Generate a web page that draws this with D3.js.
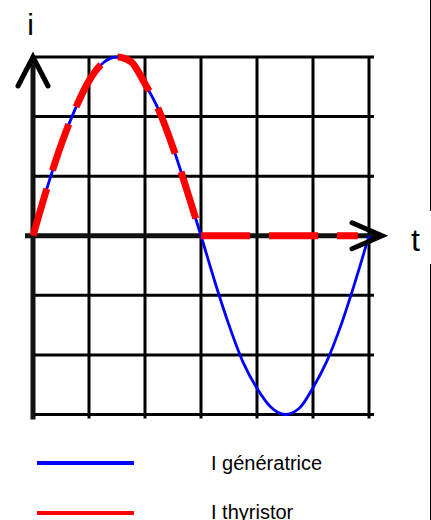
<!DOCTYPE html>
<html>
<head>
<meta charset="utf-8">
<script src="https://cdn.jsdelivr.net/npm/d3@7"></script>
<style>
  body { margin: 0; background: #fff; }
  svg { display: block; font-family: "Liberation Sans", Arial, sans-serif; }
</style>
</head>
<body>
<div id="chart"></div>
<script>
// time in grid cells, current in grid cells
const tValues = [0, 0.25, 0.5, 0.75, 1, 1.25, 1.5, 1.75, 2, 2.25, 2.5, 2.75, 3,
                 3.25, 3.5, 3.75, 4, 4.25, 4.5, 4.75, 5, 5.25, 5.5, 5.75, 6];
const iGeneratrice = [0, 0.8, 1.52, 2.12, 2.6, 2.9, 3, 2.92, 2.55, 2.1, 1.48, 0.76, 0,
                      -0.78, -1.5, -2.12, -2.56, -2.88, -3, -2.9, -2.55, -2.1, -1.5, -0.78, 0];
// thyristor conducts during the first half wave, then blocks
const tOn = [0, 0.25, 0.5, 0.75, 1, 1.25, 1.5, 1.75, 2, 2.25, 2.5, 2.75, 3];
const iOn = [0, 0.8, 1.52, 2.12, 2.6, 2.9, 3, 2.92, 2.55, 2.1, 1.48, 0.76, 0];
const tOff = [3, 5.8];
const iOff = [0, 0];
const gridX = [0, 1, 2, 3, 4, 5, 6];
const gridY = [-3, -2, -1, 0, 1, 2, 3];
const legendLabels = ["I génératrice", "I thyristor"];
const legendColors = ["#0000ff", "#ff0000"];

const width = 431, height = 520;
const svg = d3.select("#chart").append("svg")
    .attr("width", width).attr("height", height);

const x = d3.scaleLinear().domain([0, 6]).range([33, 369]);
const y = d3.scaleLinear().domain([-3, 3]).range([414.5, 57]);

// right border line of the frame
svg.append("line")
    .attr("x1", 430.5).attr("x2", 430.5).attr("y1", 0).attr("y2", height)
    .attr("stroke", "#000").attr("stroke-width", 1);

// grid
const grid = svg.append("g").attr("stroke", "#000").attr("stroke-width", 3);
grid.selectAll(".h").data(gridY).join("line")
    .attr("x1", x(0)).attr("x2", x(6) + 5)
    .attr("y1", d => y(d)).attr("y2", d => y(d));
grid.selectAll(".v").data(gridX.slice(1)).join("line")
    .attr("x1", d => x(d)).attr("x2", d => x(d))
    .attr("y1", y(3)).attr("y2", y(-3) + 4);

// axes
const axes = svg.append("g").attr("stroke", "#000").attr("fill", "none")
    .attr("stroke-width", 5);
axes.append("line")
    .attr("x1", x(0)).attr("x2", x(0)).attr("y1", y(-3) + 5).attr("y2", y(3))
    .attr("stroke", "#111");
axes.append("path")
    .attr("stroke-linecap", "round").attr("stroke-linejoin", "miter")
    .attr("d", `M${x(0) - 15},${y(3) + 29}L${x(0)},${y(3)}L${x(0) + 15},${y(3) + 29}`);
axes.append("line")
    .attr("x1", x(0) - 8).attr("x2", x(6) + 12).attr("y1", y(0)).attr("y2", y(0))
    .attr("stroke", "#111");

const line = d3.line()
    .x(d => x(d[0])).y(d => y(d[1]))
    .curve(d3.curveMonotoneX);

svg.append("path")
    .datum(d3.zip(tValues, iGeneratrice))
    .attr("d", line)
    .attr("fill", "none").attr("stroke", "#0000ff").attr("stroke-width", 2.8);

const redStyle = sel => sel.attr("fill", "none").attr("stroke", "#ff0000")
    .attr("stroke-width", 7).attr("stroke-dasharray", "49,19");
svg.append("path").datum(d3.zip(tOn, iOn)).attr("d", line).call(redStyle);
svg.append("path").datum(d3.zip(tOff, iOff)).attr("d", line).call(redStyle);

// x arrowhead on top
svg.append("path")
    .attr("fill", "none").attr("stroke", "#000").attr("stroke-width", 5)
    .attr("stroke-linecap", "round")
    .attr("d", `M${x(6) - 17},${y(0) - 13}L${x(6) + 13},${y(0)}L${x(6) - 17},${y(0) + 13}`);

// axis labels
svg.append("rect").attr("x", 398).attr("y", 211).attr("width", 33).attr("height", 53)
    .attr("fill", "#fff");
svg.append("text").attr("x", 30.5).attr("y", 35).attr("text-anchor", "middle")
    .attr("font-size", 30).text("i");
svg.append("text").attr("x", 411).attr("y", 251)
    .attr("font-size", 32).text("t");

// legend
const legend = svg.append("g");
legendLabels.forEach((lab, k) => {
    const ly = 463 + k * 50;
    legend.append("line")
        .attr("x1", 37).attr("x2", 134).attr("y1", ly).attr("y2", ly)
        .attr("stroke", legendColors[k]).attr("stroke-width", 4);
    legend.append("text")
        .attr("x", 211).attr("y", ly + 7 - k)
        .attr("font-size", 20).attr("fill", "#000").text(lab);
});
</script>
</body>
</html>
